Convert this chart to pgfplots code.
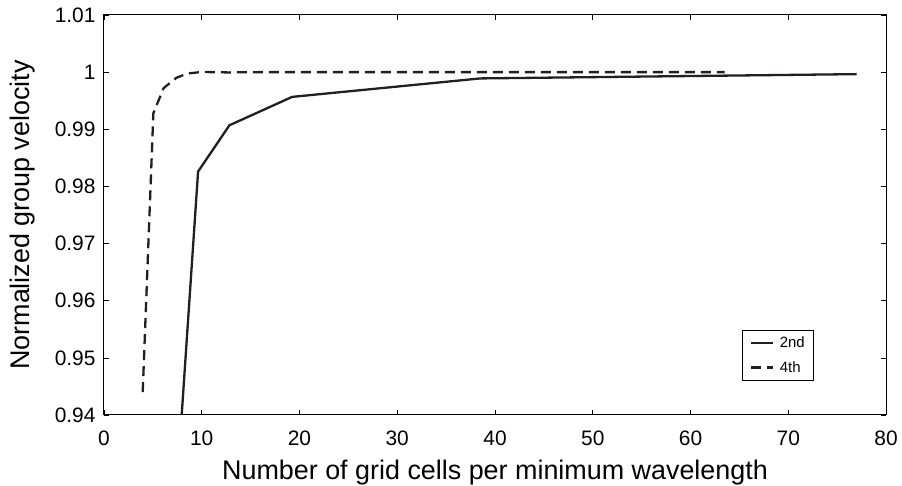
\documentclass[border=0pt]{standalone}
\usepackage{pgfplots}
\pgfplotsset{compat=1.18}
\usepackage{fontspec}
\setmainfont{Liberation Sans}
\definecolor{ink}{HTML}{231F20}
\begin{document}
\begin{tikzpicture}
\begin{axis}[
  name=ax,
  scale only axis,
  width=782bp, height=400bp,
  xmin=0, xmax=80, ymin=0.94, ymax=1.01,
  xtick={0,10,...,80},
  ytick={0.94,0.95,0.96,0.97,0.98,0.99,1,1.01},
  yticklabels={0.94,0.95,0.96,0.97,0.98,0.99,1,1.01},
  /pgf/number format/assume math mode=true,
  tick align=inside,
  major tick length=5bp,
  axis line style={line width=1bp, black},
  tick style={line width=0.7bp, black},
  ticklabel style={font=\fontsize{21}{24}\selectfont},
  xticklabel style={yshift=-12bp},
  yticklabel style={xshift=-5bp},
  xlabel={Number of grid cells per minimum wavelength},
  ylabel={Normalized group velocity},
  label style={font=\fontsize{27}{30}\selectfont},
  xlabel style={yshift=-8bp},
  ylabel style={yshift=13bp},
  clip=true,
  legend style={at={(0.908,0.085)}, anchor=south east, draw=black, line width=0.7bp,
    font=\fontsize{15}{17}\selectfont, row sep=8bp, inner xsep=7bp, inner ysep=5bp,
    /tikz/every odd column/.append style={column sep=4bp}},
  legend image code/.code={\draw[#1] (0bp,0bp) -- (22bp,0bp);},
  legend cell align=left,
]
\addplot[ink, line width=2.3bp] coordinates {
 (7.7,0.9337) (9.625,0.9826) (12.83,0.9907) (19.25,0.99567) (38.5,0.9989) (77,0.99965)
};
\addlegendentry{2nd}
\addplot[ink, line width=2.3bp, dash pattern=on 10bp off 6bp] coordinates {
 (3.96,0.9440) (5.05,0.9928) (6.1,0.9972) (7.4,0.9990) (8.5,0.99975) (10,1.00003)
 (12.7,0.99995) (15.9,1.0) (20,1.0) (31.75,1.0) (40,1.0) (63.5,1.0)
};
\addlegendentry{4th}
\end{axis}
\pgfresetboundingbox
\path ([shift={(-104bp,-71bp)}]ax.south west) rectangle ([shift={(16bp,15bp)}]ax.north east);
\end{tikzpicture}
\end{document}
